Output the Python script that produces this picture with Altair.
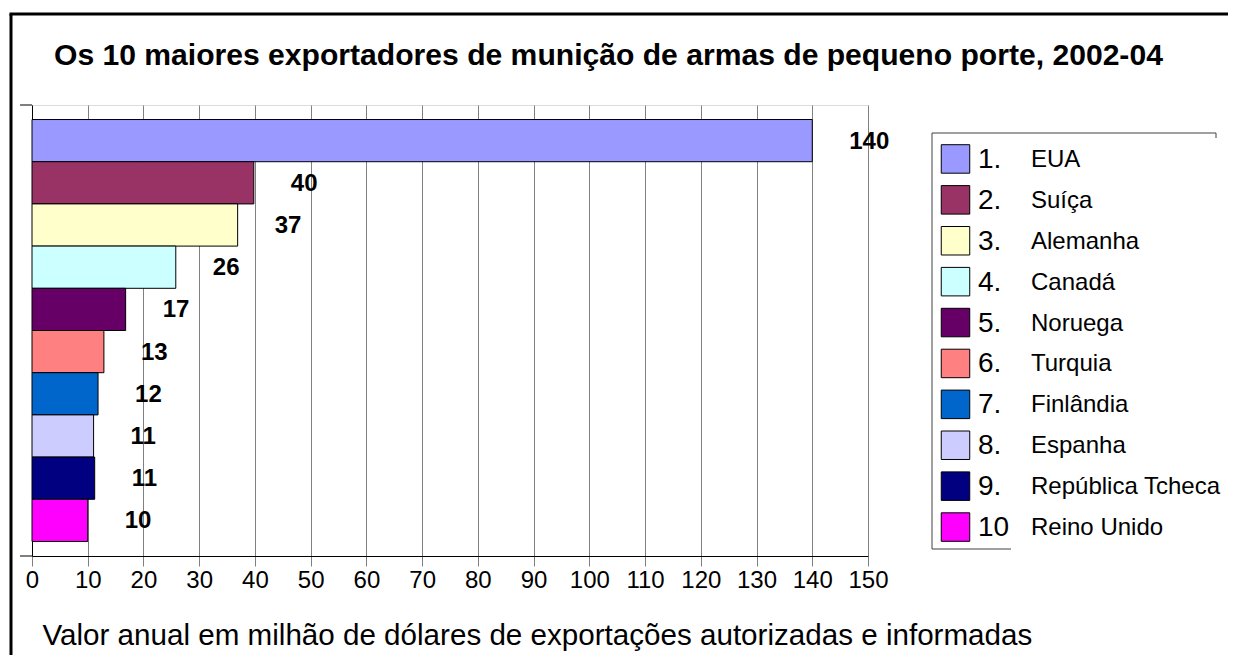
import altair as alt
import pandas as pd

countries = ["EUA", "Suíça", "Alemanha", "Canadá", "Noruega", "Turquia",
             "Finlândia", "Espanha", "República Tcheca", "Reino Unido"]
ranks = ["1.", "2.", "3.", "4.", "5.", "6.", "7.", "8.", "9.", "10"]
bar_values = [140.0, 39.8, 36.9, 25.8, 16.8, 12.9, 11.85, 11.05, 11.25, 10.0]
labels = ["140", "40", "37", "26", "17", "13", "12", "11", "11", "10"]
colors = ["#9999FF", "#993366", "#FFFFCC", "#CCFFFF", "#660066", "#FF8080",
          "#0066CC", "#CCCCFF", "#000080", "#FF00FF"]
x_ticks = list(range(0, 151, 10))
title_text = "Os 10 maiores exportadores de munição de armas de pequeno porte, 2002-04"

FONT = "Liberation Sans"
W, H = 836, 451

df = pd.DataFrame({"country": countries, "rank": ranks,
                   "value": bar_values, "label": labels})
src = alt.Data(values=df.to_dict("records"))
one = alt.Data(values=[{}])

color = alt.Color("country:N", scale=alt.Scale(domain=countries, range=colors), legend=None)
yscale = alt.Scale(type="band", domain=countries, paddingInner=0, paddingOuter=0.344)
lscale = alt.Scale(type="band", domain=countries, range=[33.5, 442.5],
                   paddingInner=0, paddingOuter=0)

xenc = alt.X("value:Q", scale=alt.Scale(domain=[0, 150], nice=False),
             axis=alt.Axis(values=x_ticks, grid=True, gridColor="#808080", gridWidth=1,
                           tickColor="#808080", tickSize=10, tickWidth=1,
                           domainColor="black", domainWidth=1,
                           labelFont=FONT, labelFontSize=24, labelColor="black",
                           labelPadding=2, labelFlush=False,
                           title="Valor anual em milhão de dólares de exportações autorizadas e informadas",
                           titleFont=FONT, titleFontSize=29.6, titleFontWeight="normal",
                           titleColor="black", titleAnchor="start", titleAlign="left",
                           titleBaseline="alphabetic", titleX=10, titleY=88))

bars = alt.Chart(src).mark_bar(stroke="black", strokeWidth=1).encode(
    x=xenc,
    y=alt.Y("country:N", sort=None, scale=yscale,
            axis=alt.Axis(labels=False, ticks=False, title=None, grid=False,
                          domainColor="black", domainWidth=1)),
    color=color,
)

text = alt.Chart(src).mark_text(align="left", baseline="middle", dx=37, dy=1,
                                font=FONT, fontSize=24, fontWeight="bold",
                                color="black").encode(
    x=alt.X("value:Q"),
    y=alt.Y("country:N", sort=None, scale=yscale, axis=None),
    text="label:N",
)

swatch = alt.Chart(src).mark_square(size=812, opacity=1, stroke="black",
                                    strokeWidth=1).encode(
    x=alt.value(923.5),
    y=alt.Y("country:N", sort=None, scale=lscale, axis=None),
    color=color,
)
rank_txt = alt.Chart(src).mark_text(align="left", baseline="middle", font=FONT,
                                    fontSize=28, color="black", dy=1).encode(
    x=alt.value(946),
    y=alt.Y("country:N", sort=None, scale=lscale, axis=None),
    text="rank:N",
)
name_txt = alt.Chart(src).mark_text(align="left", baseline="middle", font=FONT,
                                    fontSize=24, color="black", dy=1).encode(
    x=alt.value(999),
    y=alt.Y("country:N", sort=None, scale=lscale, axis=None),
    text="country:N",
)

title = alt.Chart(alt.Data(values=[{"t": title_text}])).mark_text(
    align="left", baseline="alphabetic", font=FONT, fontSize=30.1,
    fontWeight="bold", color="black").encode(
    x=alt.value(22), y=alt.value(-40), text="t:N")


def rule(x, y, x2=None, y2=None, color="black", width=1):
    enc = {"x": alt.value(x), "y": alt.value(y)}
    if x2 is not None:
        enc["x2"] = alt.value(x2)
    if y2 is not None:
        enc["y2"] = alt.value(y2)
    return alt.Chart(one).mark_rule(color=color, strokeWidth=width).encode(**enc)


decor = [
    rule(-21, -91, y2=H + 120, width=3),          # frame left
    rule(-22.5, -91, x2=W + 400, width=3),        # frame top
    rule(-12, 0, x2=0),                           # top tick of value axis
    rule(-12, H, x2=0),                           # extension of x axis
    rule(900, 28, x2=1184, color="#404040"),      # legend box top
    rule(900, 28, y2=444, color="#404040"),       # legend box left
    rule(900, 444, x2=979, color="#404040"),      # legend box bottom
    rule(1184, 28, y2=33, color="#404040"),       # legend box right stub
]

chart = alt.layer(bars, text, swatch, rank_txt, name_txt, title, *decor).resolve_scale(
    y="independent"
).properties(
    width=W, height=H,
    autosize=alt.AutoSizeParams(type="none"),
    padding={"left": 24, "top": 97, "right": 360, "bottom": 99},
).configure_view(stroke=None).configure(background="white")

chart.save("out.html", embed_options={"renderer": "svg", "actions": False})
